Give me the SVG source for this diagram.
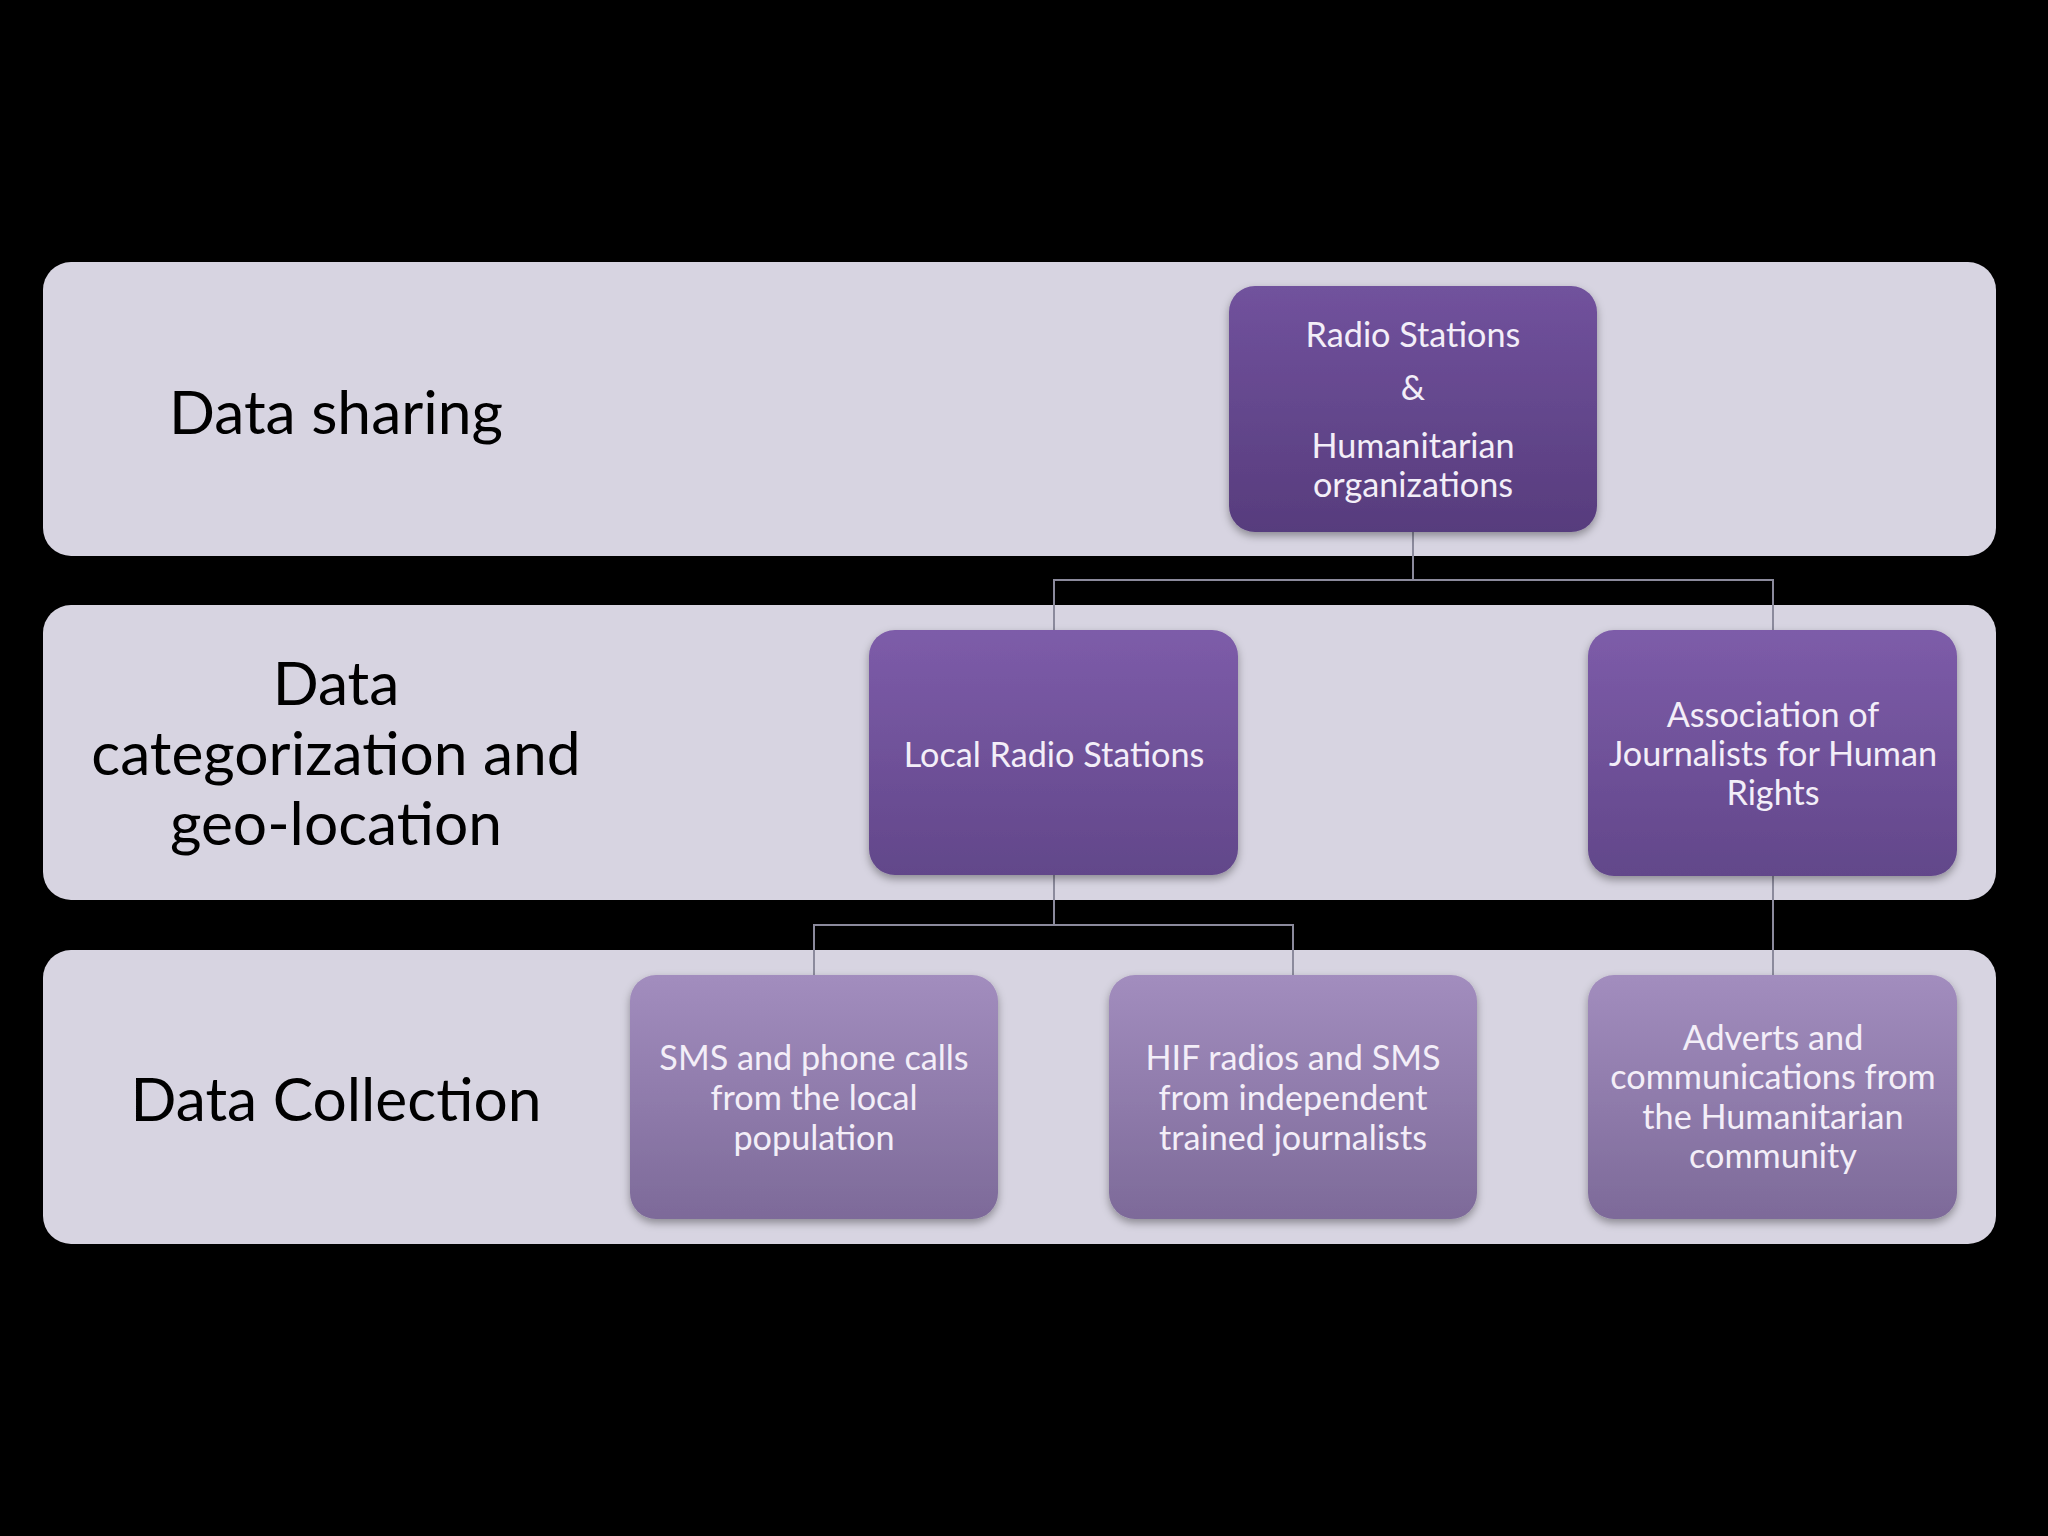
<svg xmlns="http://www.w3.org/2000/svg" width="2048" height="1536" viewBox="0 0 2048 1536">
<defs>
<linearGradient id="gTop" x1="0" y1="0" x2="0" y2="1"><stop offset="0" stop-color="#71529d"/><stop offset="1" stop-color="#573c7d"/></linearGradient>
<linearGradient id="gMid" x1="0" y1="0" x2="0" y2="1"><stop offset="0" stop-color="#7d5ca9"/><stop offset="1" stop-color="#62478a"/></linearGradient>
<linearGradient id="gLow" x1="0" y1="0" x2="0" y2="1"><stop offset="0" stop-color="#a28dbe"/><stop offset="1" stop-color="#7d6a99"/></linearGradient>
<filter id="sh" x="-10%" y="-10%" width="120%" height="125%"><feDropShadow dx="0" dy="4" stdDeviation="4" flood-color="#000" flood-opacity="0.35"/></filter>
<style>
.band{fill:#d7d4e1}
.lbl{font-family:Lato,"Open Sans",sans-serif;font-size:60.5px;fill:#000;text-anchor:middle}
.nt{font-family:Lato,"Open Sans",sans-serif;font-size:34.2px;fill:#f3eef8;text-anchor:middle}
.con{fill:none;stroke:#8b8a9c;stroke-width:2}
</style>
</defs>
<rect width="2048" height="1536" fill="#000"/>
<g id="band-sharing"><rect class="band" x="43" y="262" width="1953" height="294" rx="28"/><text class="lbl" x="336" y="434">Data sharing</text></g>
<g id="band-categorization"><rect class="band" x="43" y="605" width="1953" height="295" rx="28"/><text class="lbl"><tspan x="336" y="705">Data</tspan><tspan x="336" y="775">categorization and</tspan><tspan x="336" y="845">geo-location</tspan></text></g>
<g id="band-collection"><rect class="band" x="43" y="950" width="1953" height="294" rx="28"/><text class="lbl" x="336" y="1121">Data Collection</text></g>
<g id="connectors">
<path class="con" d="M1413 532V580M1054 630V580H1773V630"/>
<path class="con" d="M1054 875V925M814 975V925H1293V975"/>
<path class="con" d="M1773 876V975"/>
</g>
<g id="node-radio-humanitarian"><rect x="1229" y="286" width="368" height="246" rx="26" fill="url(#gTop)" filter="url(#sh)"/><text class="nt"><tspan x="1413" y="347">Radio Stations</tspan><tspan x="1413" y="400">&amp;</tspan><tspan x="1413" y="458">Humanitarian</tspan><tspan x="1413" y="497">organizations</tspan></text></g>
<g id="node-local-radio"><rect x="869" y="630" width="369" height="245" rx="26" fill="url(#gMid)" filter="url(#sh)"/><text class="nt" x="1054" y="767">Local Radio Stations</text></g>
<g id="node-association"><rect x="1588" y="630" width="369" height="246" rx="26" fill="url(#gMid)" filter="url(#sh)"/><text class="nt"><tspan x="1773" y="727">Association of</tspan><tspan x="1773" y="766">Journalists for Human</tspan><tspan x="1773" y="805">Rights</tspan></text></g>
<g id="node-sms"><rect x="630" y="975" width="368" height="244" rx="26" fill="url(#gLow)" filter="url(#sh)"/><text class="nt"><tspan x="814" y="1070">SMS and phone calls</tspan><tspan x="814" y="1110">from the local</tspan><tspan x="814" y="1150">population</tspan></text></g>
<g id="node-hif"><rect x="1109" y="975" width="368" height="244" rx="26" fill="url(#gLow)" filter="url(#sh)"/><text class="nt"><tspan x="1293" y="1070">HIF radios and SMS</tspan><tspan x="1293" y="1110">from independent</tspan><tspan x="1293" y="1150">trained journalists</tspan></text></g>
<g id="node-adverts"><rect x="1588" y="975" width="369" height="244" rx="26" fill="url(#gLow)" filter="url(#sh)"/><text class="nt"><tspan x="1773" y="1050">Adverts and</tspan><tspan x="1773" y="1089">communications from</tspan><tspan x="1773" y="1129">the Humanitarian</tspan><tspan x="1773" y="1168">community</tspan></text></g>
</svg>
